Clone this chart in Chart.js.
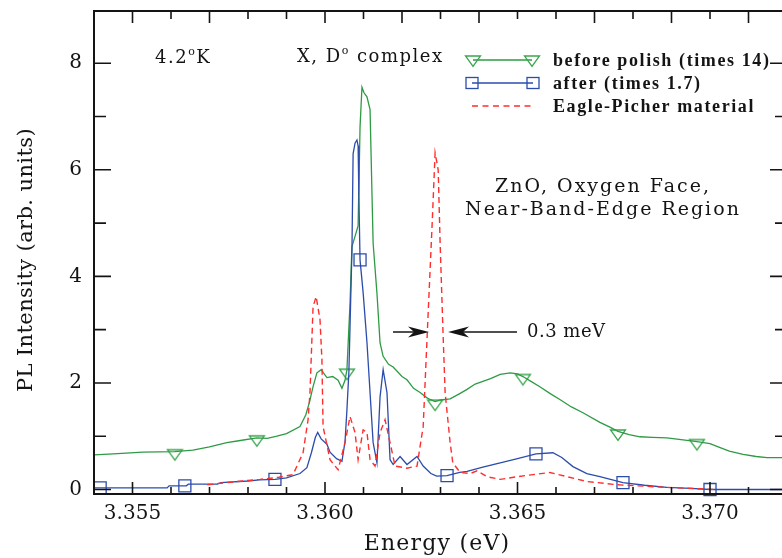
<!DOCTYPE html>
<html>
<head>
<meta charset="utf-8">
<script src="https://cdn.jsdelivr.net/npm/chart.js@4.4.0/dist/chart.umd.min.js"></script>
<style>
  html, body { margin: 0; padding: 0; background: #fff; overflow: hidden; }
  #wrap { position: relative; width: 782px; height: 558px; overflow: hidden; }
  canvas { position: absolute; left: 0; top: 0; }
</style>
</head>
<body>
<div id="wrap"><canvas id="chartCanvas" width="800" height="558"></canvas></div>
<script>
// before polish (times 14)
const greenEnergy = [3.35400, 3.35450, 3.35527, 3.35610, 3.35657, 3.35700, 3.35745, 3.35780, 3.35823, 3.35850,
  3.35875, 3.35900, 3.35935, 3.35950, 3.35960, 3.35969, 3.35979, 3.35990, 3.36005, 3.36020,
  3.36034, 3.36044, 3.36052, 3.36057, 3.36065, 3.36070, 3.36078, 3.36086, 3.36091, 3.36096,
  3.36101, 3.36109, 3.36117, 3.36122, 3.36125, 3.36135, 3.36143, 3.36151, 3.36165, 3.36177,
  3.36200, 3.36213, 3.36230, 3.36247, 3.36265, 3.36273, 3.36286, 3.36300, 3.36325, 3.36350,
  3.36369, 3.36390, 3.36410, 3.36430, 3.36455, 3.36481, 3.36500, 3.36514, 3.36535, 3.36558,
  3.36585, 3.36610, 3.36640, 3.36670, 3.36714, 3.36740, 3.36761, 3.36790, 3.36818, 3.36850,
  3.36888, 3.36930, 3.36966, 3.37000, 3.37018, 3.37050, 3.37086, 3.37120, 3.37148, 3.37200];
const greenIntensity = [0.65, 0.67, 0.70, 0.71, 0.74, 0.80, 0.88, 0.92, 0.97, 0.96,
  1.00, 1.05, 1.18, 1.40, 1.65, 1.93, 2.19, 2.25, 2.10, 2.12,
  2.05, 1.90, 2.05, 2.25, 3.50, 4.56, 4.75, 4.95, 6.80, 7.55,
  7.45, 7.37, 7.13, 5.56, 4.62, 3.68, 2.75, 2.50, 2.35, 2.30,
  2.12, 2.06, 1.90, 1.82, 1.72, 1.69, 1.65, 1.68, 1.70, 1.80,
  1.88, 1.98, 2.03, 2.08, 2.16, 2.19, 2.17, 2.12, 2.03, 1.93,
  1.80, 1.69, 1.55, 1.44, 1.26, 1.17, 1.09, 1.03, 0.99, 0.98,
  0.97, 0.93, 0.90, 0.86, 0.81, 0.72, 0.66, 0.62, 0.60, 0.60];
const greenMarkEnergy = [3.35610, 3.35823, 3.36057, 3.36286, 3.36514, 3.36761, 3.36966];
const greenMarkIntensity = [0.71, 0.97, 2.22, 1.64, 2.12, 1.08, 0.90];

// after (times 1.7)
const blueEnergy = [3.35400, 3.35590, 3.35595, 3.35640, 3.35645, 3.35720, 3.35730, 3.35800, 3.35830, 3.35870,
  3.35900, 3.35935, 3.35953, 3.35965, 3.35975, 3.35981, 3.35990, 3.36005, 3.36013, 3.36030,
  3.36044, 3.36052, 3.36057, 3.36062, 3.36065, 3.36070, 3.36073, 3.36078, 3.36083, 3.36086,
  3.36088, 3.36091, 3.36099, 3.36109, 3.36117, 3.36125, 3.36135, 3.36143, 3.36151, 3.36161,
  3.36169, 3.36177, 3.36195, 3.36213, 3.36239, 3.36255, 3.36275, 3.36290, 3.36317, 3.36350,
  3.36369, 3.36410, 3.36455, 3.36500, 3.36548, 3.36592, 3.36615, 3.36644, 3.36680, 3.36714,
  3.36774, 3.36830, 3.36888, 3.36950, 3.37000, 3.37100, 3.37200];
const blueIntensity = [0.03, 0.03, 0.07, 0.07, 0.10, 0.10, 0.13, 0.16, 0.18, 0.19,
  0.22, 0.30, 0.41, 0.70, 0.98, 1.07, 0.95, 0.85, 0.70, 0.58,
  0.53, 0.90, 1.50, 2.20, 3.06, 4.50, 6.30, 6.50, 6.56, 6.45,
  5.50, 4.31, 3.70, 2.76, 1.82, 0.88, 0.50, 1.74, 2.25, 1.82,
  0.56, 0.47, 0.62, 0.47, 0.62, 0.44, 0.30, 0.25, 0.26, 0.32,
  0.34, 0.42, 0.50, 0.58, 0.67, 0.69, 0.60, 0.43, 0.30, 0.24,
  0.13, 0.08, 0.04, 0.02, 0.00, 0.00, 0.00];
const blueMarkEnergy = [3.35416, 3.35636, 3.35870, 3.36091, 3.36317, 3.36548, 3.36774, 3.37000];
const blueMarkIntensity = [0.03, 0.07, 0.19, 4.31, 0.26, 0.67, 0.13, 0.00];

// Eagle-Picher material
const redEnergy = [3.35694, 3.35745, 3.35800, 3.35831, 3.35880, 3.35917, 3.35943, 3.35956, 3.35961, 3.35969,
  3.35977, 3.35987, 3.35992, 3.35995, 3.36013, 3.36034, 3.36052, 3.36065, 3.36078, 3.36086,
  3.36099, 3.36109, 3.36117, 3.36130, 3.36143, 3.36156, 3.36169, 3.36182, 3.36213, 3.36239,
  3.36255, 3.36268, 3.36278, 3.36286, 3.36294, 3.36299, 3.36306, 3.36312, 3.36325, 3.36332,
  3.36351, 3.36377, 3.36395, 3.36421, 3.36455, 3.36499, 3.36540, 3.36584, 3.36629, 3.36681,
  3.36758, 3.36888, 3.37018];
const redIntensity = [0.09, 0.13, 0.17, 0.19, 0.23, 0.28, 0.69, 1.31, 1.82, 3.43,
  3.62, 3.19, 2.44, 1.18, 0.56, 0.37, 0.88, 1.37, 1.07, 0.56,
  1.12, 1.07, 0.56, 0.44, 1.07, 1.31, 0.88, 0.44, 0.40, 0.44,
  1.18, 3.32, 4.93, 6.32, 6.00, 4.63, 3.06, 1.82, 0.88, 0.50,
  0.32, 0.30, 0.35, 0.24, 0.19, 0.24, 0.28, 0.32, 0.24, 0.15,
  0.09, 0.04, 0.00];

const energyLabels = [3.355, 3.360, 3.365, 3.370];
const energyMinor = [3.354, 3.355, 3.356, 3.357, 3.358, 3.359, 3.360, 3.361, 3.362, 3.363,
  3.364, 3.365, 3.366, 3.367, 3.368, 3.369, 3.370, 3.371, 3.372];
const energyTopLong = [3.355, 3.357, 3.360, 3.362, 3.364, 3.367, 3.369, 3.371];
const intensityLabels = [0, 2, 4, 6, 8];
const intensityMinor = [0, 1, 2, 3, 4, 5, 6, 7, 8];

const GREEN = '#2f9a44';
const BLUE = '#2c4cab';
const RED = '#ff2e2e';
const INK = '#141414';

function pts(xs, ys) {
  return xs.map((e, i) => ({ x: e, y: ys[i] }));
}

function triangleMarker(color) {
  const c = document.createElement('canvas');
  c.width = 18; c.height = 20;
  const g = c.getContext('2d');
  g.strokeStyle = color;
  g.lineWidth = 1.3;
  g.beginPath();
  g.moveTo(1.5, 8); g.lineTo(16.5, 8); g.lineTo(9, 18.5); g.closePath();
  g.stroke();
  return c;
}
const triImg = triangleMarker('#3aa64e');

function setFont(ctx, size, weight, family, spacing) {
  ctx.font = (weight || 'normal') + ' ' + size + 'px ' + (family || '"DejaVu Serif"');
  ctx.letterSpacing = (spacing || 0) + 'px';
}

function supText(ctx, x, y, parts, size) {
  // parts: [text, isSuperscript]
  let cx = x;
  for (const [t, sup] of parts) {
    setFont(ctx, sup ? Math.round(size * 0.62) : size, 'normal', null, 1.5);
    ctx.fillText(t, cx, sup ? y - size * 0.42 : y);
    cx += ctx.measureText(t).width;
  }
}

function arrow(ctx, x0, x1, y) {
  const dir = x1 > x0 ? 1 : -1;
  ctx.beginPath();
  ctx.moveTo(x0, y); ctx.lineTo(x1 - dir * 10, y);
  ctx.stroke();
  ctx.beginPath();
  ctx.moveTo(x1, y);
  ctx.lineTo(x1 - dir * 21, y - 5.5);
  ctx.lineTo(x1 - dir * 15, y);
  ctx.lineTo(x1 - dir * 21, y + 5.5);
  ctx.closePath();
  ctx.fill();
}

const framePlugin = {
  id: 'frame',
  afterDraw(chart) {
    const { ctx, chartArea: a, scales: { x, y } } = chart;
    ctx.save();
    ctx.strokeStyle = INK;
    ctx.fillStyle = INK;

    // inward ticks
    ctx.lineWidth = 1.6;
    ctx.beginPath();
    for (const e of energyMinor) {
      const px = x.getPixelForValue(e);
      const big = energyLabels.some(v => Math.abs(v - e) < 1e-6);
      ctx.moveTo(px, a.bottom); ctx.lineTo(px, a.bottom - (big ? 12 : 7));
      const topLong = energyTopLong.some(v => Math.abs(v - e) < 1e-6);
      ctx.moveTo(px, a.top); ctx.lineTo(px, a.top + (topLong ? 12 : 8));
    }
    for (const v of intensityMinor) {
      const py = y.getPixelForValue(v);
      const len = v % 2 === 0 ? 17 : 12;
      ctx.moveTo(a.left, py); ctx.lineTo(a.left + len, py);
      ctx.moveTo(a.right, py); ctx.lineTo(a.right - len, py);
    }
    ctx.stroke();

    ctx.lineWidth = 2;
    ctx.strokeRect(a.left, a.top, a.right - a.left, a.bottom - a.top);

    // axis titles
    ctx.textBaseline = 'middle';
    ctx.textAlign = 'center';
    setFont(ctx, 22, 'normal', null, 1.2);
    ctx.fillText('Energy (eV)', 437, 544);
    ctx.save();
    ctx.translate(27, 260);
    ctx.rotate(-Math.PI / 2);
    setFont(ctx, 21, 'normal', null, 0.4);
    ctx.fillText('PL Intensity (arb. units)', 0, 0);
    ctx.restore();

    // annotations
    ctx.textAlign = 'left';
    ctx.textBaseline = 'alphabetic';
    supText(ctx, 155, 63, [['4.2', false], ['o', true], ['K', false]], 18);
    supText(ctx, 297, 62, [['X, D', false], ['o', true], [' complex', false]], 18);

    ctx.textAlign = 'center';
    setFont(ctx, 19, 'normal', null, 2);
    ctx.fillText('ZnO, Oxygen Face,', 603, 192);
    ctx.fillText('Near-Band-Edge Region', 603, 215);

    ctx.textAlign = 'left';
    setFont(ctx, 18, 'normal', null, 0.5);
    ctx.fillText('0.3 meV', 527, 337);
    ctx.lineWidth = 1.5;
    arrow(ctx, 393, 429, 332);
    arrow(ctx, 517, 448, 332);

    // legend
    ctx.lineWidth = 1.3;
    ctx.strokeStyle = GREEN;
    ctx.beginPath(); ctx.moveTo(473, 60); ctx.lineTo(532, 60); ctx.stroke();
    ctx.drawImage(triImg, 473 - 9, 58 - 10);
    ctx.drawImage(triImg, 532 - 9, 58 - 10);
    ctx.strokeStyle = BLUE;
    ctx.beginPath(); ctx.moveTo(472, 83); ctx.lineTo(533, 83); ctx.stroke();
    ctx.strokeRect(466, 77.5, 12, 11);
    ctx.strokeRect(527, 77.5, 12, 11);
    ctx.strokeStyle = RED;
    ctx.setLineDash([6, 4.5]);
    ctx.beginPath(); ctx.moveTo(472, 106); ctx.lineTo(535, 106); ctx.stroke();
    ctx.setLineDash([]);

    ctx.fillStyle = INK;
    ctx.textBaseline = 'middle';
    setFont(ctx, 18, 'bold', '"Liberation Serif"', 1.6);
    ctx.fillText('before polish (times 14)', 553, 61);
    ctx.fillText('after (times 1.7)', 553, 84);
    ctx.fillText('Eagle-Picher material', 553, 107);
    ctx.letterSpacing = '0px';
    ctx.restore();
  }
};

const ctx = document.getElementById('chartCanvas').getContext('2d');
new Chart(ctx, {
  type: 'line',
  data: {
    datasets: [
      { label: 'Eagle-Picher material', data: pts(redEnergy, redIntensity), borderColor: RED,
        borderWidth: 1.4, borderDash: [6, 4], pointRadius: 0, order: 0 },
      { label: 'after (times 1.7)', data: pts(blueEnergy, blueIntensity), borderColor: BLUE,
        borderWidth: 1.3, pointRadius: 0, order: 1 },
      { label: 'after markers', data: pts(blueMarkEnergy, blueMarkIntensity), showLine: false,
        pointStyle: 'rect', pointRadius: 8.5, borderColor: BLUE, backgroundColor: 'rgba(0,0,0,0)',
        pointBorderWidth: 1.3, order: 1, clip: false },
      { label: 'before polish (times 14)', data: pts(greenEnergy, greenIntensity), borderColor: GREEN,
        borderWidth: 1.3, pointRadius: 0, order: 2 },
      { label: 'before markers', data: pts(greenMarkEnergy, greenMarkIntensity), showLine: false,
        pointStyle: triImg, pointRadius: 9, order: 2 }
    ]
  },
  options: {
    responsive: false,
    animation: false,
    devicePixelRatio: 1,
    layout: { padding: { left: 0, right: 13, top: 11, bottom: 0 } },
    plugins: { legend: { display: false }, tooltip: { enabled: false } },
    elements: { line: { tension: 0 } },
    scales: {
      x: {
        type: 'linear', min: 3.354, max: 3.372,
        grid: { display: false, drawTicks: false }, border: { display: false },
        afterBuildTicks: s => { s.ticks = energyLabels.map(v => ({ value: v })); },
        afterFit: s => { s.height = 64; s.paddingLeft = 0; s.paddingRight = 0; },
        ticks: { autoSkip: false, maxRotation: 0, padding: 8, color: INK,
          font: { family: '"DejaVu Serif"', size: 20 }, callback: v => v.toFixed(3) }
      },
      y: {
        type: 'linear', min: -0.084, max: 8.98,
        grid: { display: false, drawTicks: false }, border: { display: false },
        afterBuildTicks: s => { s.ticks = intensityLabels.map(v => ({ value: v })); },
        afterFit: s => { s.width = 94; s.paddingTop = 0; s.paddingBottom = 0; },
        ticks: { padding: 12, color: INK, font: { family: '"DejaVu Serif"', size: 20 } }
      }
    }
  },
  plugins: [framePlugin]
});
</script>
</body>
</html>
